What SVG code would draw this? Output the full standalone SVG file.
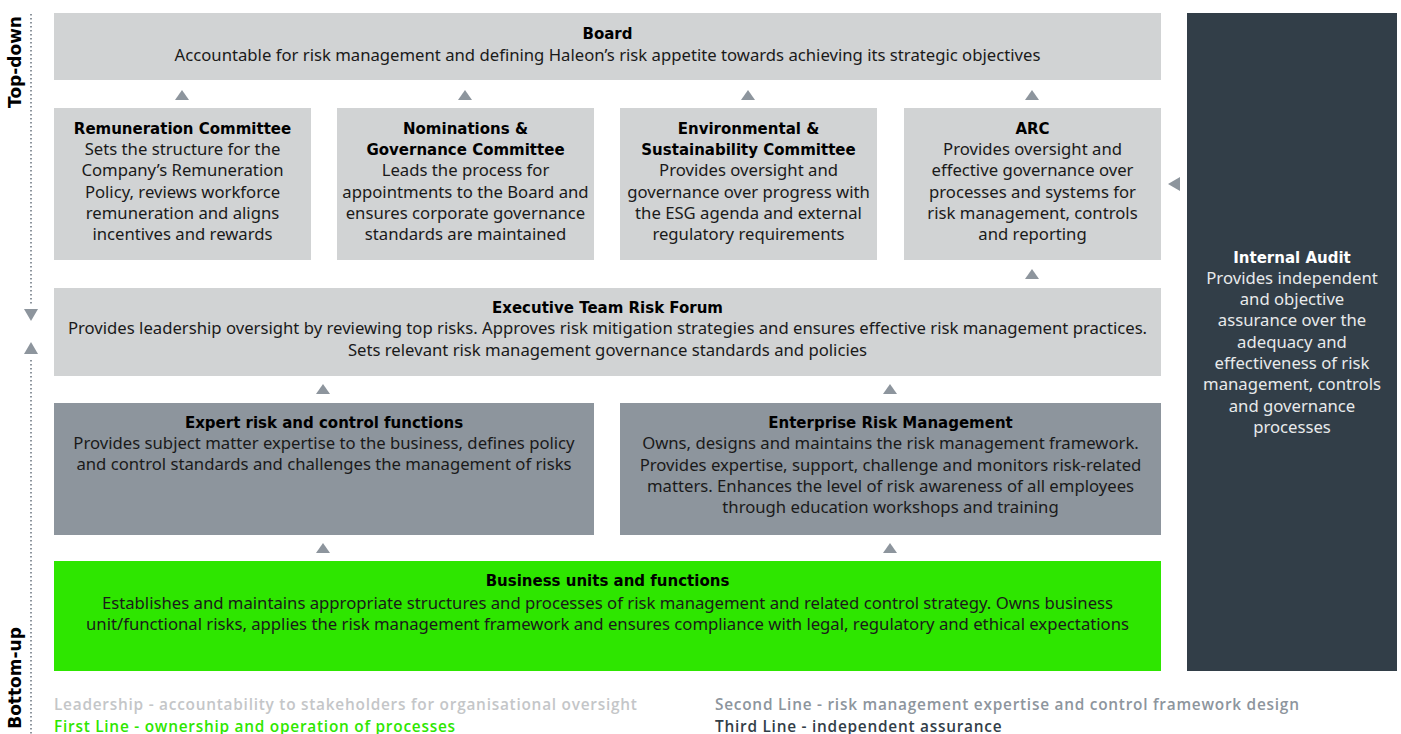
<svg xmlns="http://www.w3.org/2000/svg" width="1401" height="734" viewBox="0 0 1401 734">
<style>
.light{fill:#d1d3d4}
.mid{fill:#8d959d}
.dark{fill:#323e48}
.green{fill:#2ee600}
.t{font-family:"DejaVu Sans","Noto Sans",sans-serif;font-weight:bold;font-size:15px;fill:#000;text-anchor:middle}
.b{font-family:"Noto Sans","Open Sans",sans-serif;font-size:16.7px;fill:#1a1a1a;text-anchor:middle}
.tw{fill:#fff}
.bw{fill:#e8eaeb}
.tri{fill:#8d959d}
.side{font-family:"DejaVu Sans","Noto Sans",sans-serif;font-weight:bold;font-size:17px;fill:#000;text-anchor:middle}
.leg{font-family:"Open Sans","Noto Sans",sans-serif;font-weight:600;font-size:15.4px;letter-spacing:0.75px}
</style>
<rect width="1401" height="734" fill="#fff"/>
<g id="axis">
<line x1="31" y1="14" x2="31" y2="304" stroke="#8d959d" stroke-width="2" stroke-dasharray="1.5 2.5"/>
<polygon class="tri" points="24,309 38,309 31,321"/>
<polygon class="tri" points="24,354 38,354 31,342"/>
<line x1="31" y1="360" x2="31" y2="734" stroke="#8d959d" stroke-width="2" stroke-dasharray="1.5 2.5"/>
<text class="side" transform="translate(21,62) rotate(-90)">Top-down</text>
<text class="side" transform="translate(21,678) rotate(-90)">Bottom-up</text>
</g>
<g id="board">
<rect class="light" x="54" y="13" width="1107" height="67"/>
<text class="t" x="607.5" y="39">Board</text>
<text class="b" x="607.5" y="61">Accountable for risk management and defining Haleon’s risk appetite towards achieving its strategic objectives</text>
</g>
<g id="remuneration">
<rect class="light" x="54" y="108" width="257" height="152"/>
<text class="t" x="182.5" y="134">Remuneration Committee</text>
<text class="b" x="182.5" y="155">Sets the structure for the</text>
<text class="b" x="182.5" y="176">Company’s Remuneration</text>
<text class="b" x="182.5" y="198">Policy, reviews workforce</text>
<text class="b" x="182.5" y="219">remuneration and aligns</text>
<text class="b" x="182.5" y="240">incentives and rewards</text>
</g>
<g id="nominations">
<rect class="light" x="337" y="108" width="257" height="152"/>
<text class="t" x="465.5" y="134">Nominations &amp;</text>
<text class="t" x="465.5" y="155">Governance Committee</text>
<text class="b" x="465.5" y="176">Leads the process for</text>
<text class="b" x="465.5" y="198">appointments to the Board and</text>
<text class="b" x="465.5" y="219">ensures corporate governance</text>
<text class="b" x="465.5" y="240">standards are maintained</text>
</g>
<g id="environmental">
<rect class="light" x="620" y="108" width="257" height="152"/>
<text class="t" x="748.5" y="134">Environmental &amp;</text>
<text class="t" x="748.5" y="155">Sustainability Committee</text>
<text class="b" x="748.5" y="176">Provides oversight and</text>
<text class="b" x="748.5" y="198">governance over progress with</text>
<text class="b" x="748.5" y="219">the ESG agenda and external</text>
<text class="b" x="748.5" y="240">regulatory requirements</text>
</g>
<g id="arc">
<rect class="light" x="904" y="108" width="257" height="152"/>
<text class="t" x="1032.5" y="134">ARC</text>
<text class="b" x="1032.5" y="155">Provides oversight and</text>
<text class="b" x="1032.5" y="176">effective governance over</text>
<text class="b" x="1032.5" y="198">processes and systems for</text>
<text class="b" x="1032.5" y="219">risk management, controls</text>
<text class="b" x="1032.5" y="240">and reporting</text>
</g>
<g id="exec">
<rect class="light" x="54" y="288" width="1107" height="88"/>
<text class="t" x="607.5" y="313">Executive Team Risk Forum</text>
<text class="b" x="607.5" y="334">Provides leadership oversight by reviewing top risks. Approves risk mitigation strategies and ensures effective risk management practices.</text>
<text class="b" x="607.5" y="356">Sets relevant risk management governance standards and policies</text>
</g>
<g id="expert">
<rect class="mid" x="54" y="403" width="540" height="132"/>
<text class="t" x="324" y="428">Expert risk and control functions</text>
<text class="b" x="324" y="449">Provides subject matter expertise to the business, defines policy</text>
<text class="b" x="324" y="470">and control standards and challenges the management of risks</text>
</g>
<g id="erm">
<rect class="mid" x="620" y="403" width="541" height="132"/>
<text class="t" x="890.5" y="428">Enterprise Risk Management</text>
<text class="b" x="890.5" y="449">Owns, designs and maintains the risk management framework.</text>
<text class="b" x="890.5" y="471">Provides expertise, support, challenge and monitors risk-related</text>
<text class="b" x="890.5" y="492">matters. Enhances the level of risk awareness of all employees</text>
<text class="b" x="890.5" y="513">through education workshops and training</text>
</g>
<g id="business">
<rect class="green" x="54" y="561" width="1107" height="110"/>
<text class="t" x="607.5" y="586">Business units and functions</text>
<text class="b" x="607.5" y="609">Establishes and maintains appropriate structures and processes of risk management and related control strategy. Owns business</text>
<text class="b" x="607.5" y="630">unit/functional risks, applies the risk management framework and ensures compliance with legal, regulatory and ethical expectations</text>
</g>
<g id="audit">
<rect class="dark" x="1187" y="13" width="210" height="658"/>
<text class="t tw" x="1292" y="263">Internal Audit</text>
<text class="b bw" x="1292" y="284">Provides independent</text>
<text class="b bw" x="1292" y="305">and objective</text>
<text class="b bw" x="1292" y="326">assurance over the</text>
<text class="b bw" x="1292" y="348">adequacy and</text>
<text class="b bw" x="1292" y="369">effectiveness of risk</text>
<text class="b bw" x="1292" y="390">management, controls</text>
<text class="b bw" x="1292" y="412">and governance</text>
<text class="b bw" x="1292" y="433">processes</text>
</g>
<g id="connectors">
<polygon class="tri" points="175,100 189,100 182,90"/>
<polygon class="tri" points="458,100 472,100 465,90"/>
<polygon class="tri" points="741,100 755,100 748,90"/>
<polygon class="tri" points="1025,100 1039,100 1032,90"/>
<polygon class="tri" points="1025,279 1039,279 1032,269"/>
<polygon class="tri" points="316,394 330,394 323,384"/>
<polygon class="tri" points="883,394 897,394 890,384"/>
<polygon class="tri" points="316,553 330,553 323,543"/>
<polygon class="tri" points="883,553 897,553 890,543"/>
<polygon class="tri" points="1180,177 1180,191 1168,184"/>
</g>
<g id="legend">
<text class="leg" x="54" y="710" fill="#c4c6c8">Leadership - accountability to stakeholders for organisational oversight</text>
<text class="leg" x="54" y="731.5" fill="#2ee600">First Line - ownership and operation of processes</text>
<text class="leg" x="715" y="710" fill="#8d959d">Second Line - risk management expertise and control framework design</text>
<text class="leg" x="715" y="731.5" fill="#323e48">Third Line - independent assurance</text>
</g>
</svg>
